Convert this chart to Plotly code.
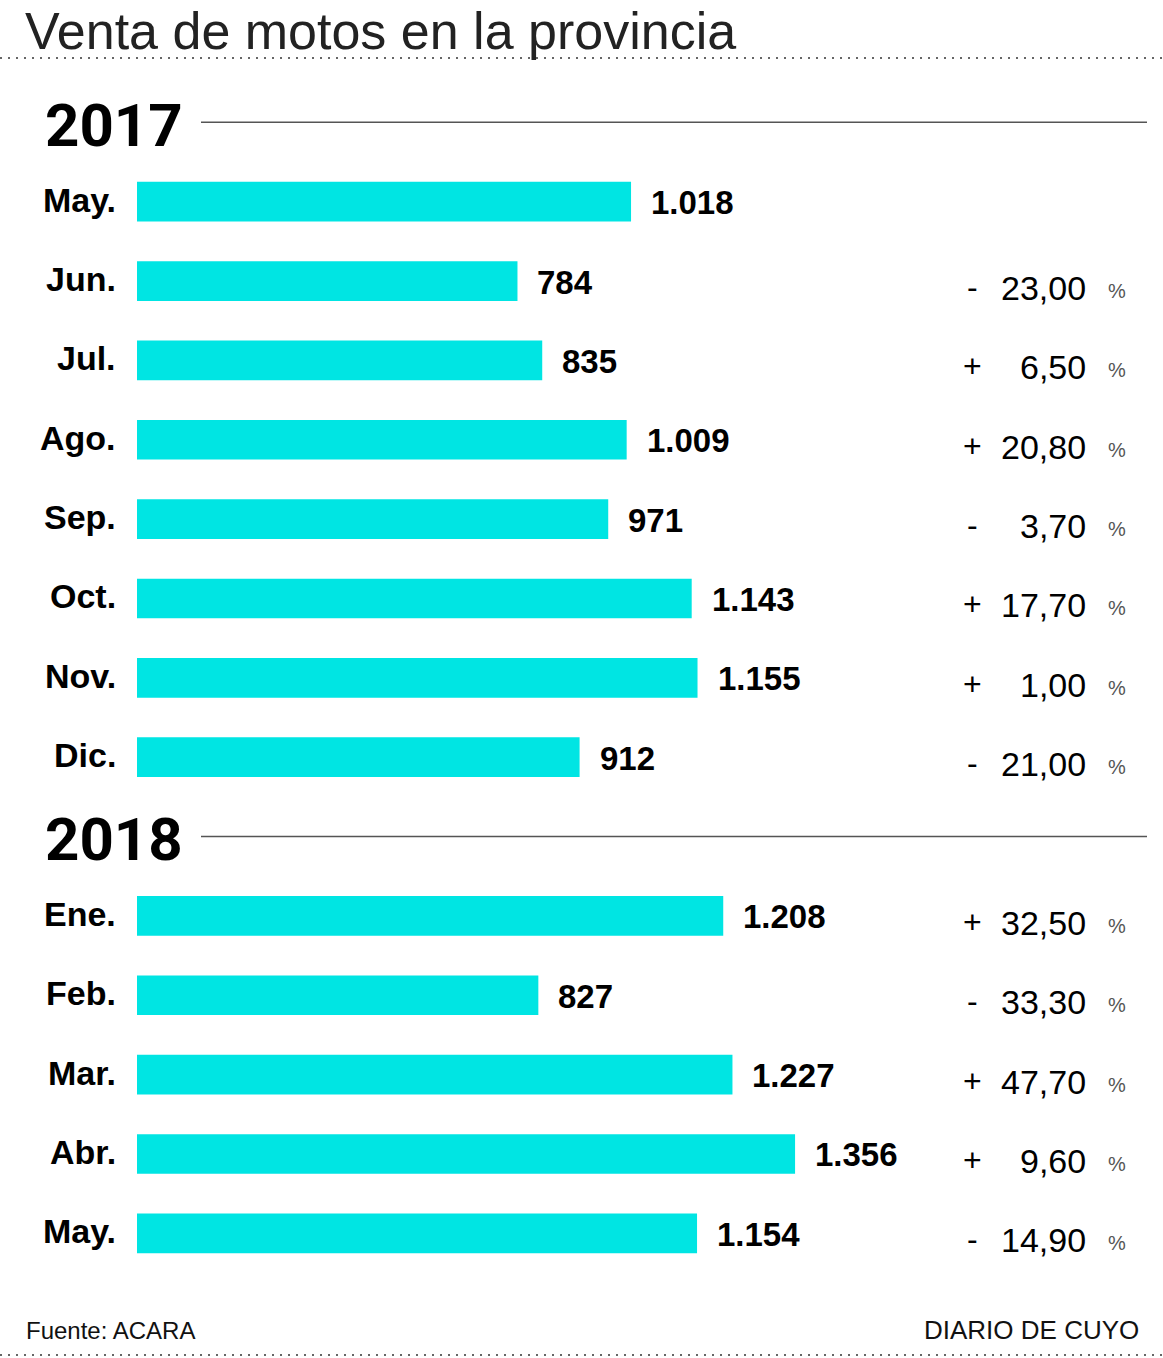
import plotly.graph_objects as go

# ---------------- data ----------------
months_2017 = ["May.", "Jun.", "Jul.", "Ago.", "Sep.", "Oct.", "Nov.", "Dic."]
sales_2017 = [1018, 784, 835, 1009, 971, 1143, 1155, 912]
pct_2017 = [None, -23.00, 6.50, 20.80, -3.70, 17.70, 1.00, -21.00]

months_2018 = ["Ene.", "Feb.", "Mar.", "Abr.", "May."]
sales_2018 = [1208, 827, 1227, 1356, 1154]
pct_2018 = [32.50, -33.30, 47.70, 9.60, -14.90]

years = ["2017", "2018"]
title = "Venta de motos en la provincia"
source = "Fuente: ACARA"
brand = "DIARIO DE CUYO"

# ---------------- build categories ----------------
cat_ids = [f"2017-{m}" for m in months_2017] + ["gap"] + [f"2018-{m}" for m in months_2018]
bar_ids = [f"2017-{m}" for m in months_2017] + [f"2018-{m}" for m in months_2018]
labels = months_2017 + months_2018
values = sales_2017 + sales_2018
pcts = pct_2017 + pct_2018
idx = [cat_ids.index(c) for c in bar_ids]
N = len(cat_ids)

OFF = 0  # page body margin removed via post_script
W, H = 1163, 1358
ML, MR, MT, MB = 137, 0, 162, 85
plot_w = W - ML - MR
plot_h = H - MT - MB
XMAX = plot_w / 0.4853

def fx(px):  # reference pixel x -> paper x
    return (px - OFF - ML) / plot_w

def fy(py):  # reference pixel y -> paper y
    return 1 - (py - OFF - MT) / plot_h

def slot_paper(i):  # category index -> paper y
    return 1 - (i + 0.5) / N

NARROW = "Liberation Sans Narrow, Arial Narrow, Liberation Sans, Arial, sans-serif"
REG = "Liberation Sans, Arial, Helvetica, sans-serif"
BAR_COLOR = "#00E5E3"

fig = go.Figure(go.Bar(
    x=values, y=bar_ids, orientation="h",
    marker=dict(color=BAR_COLOR, line=dict(width=0)),
    width=0.5, hoverinfo="skip",
))

def fmt_int(v):
    return f"{v:,}".replace(",", ".")

ann = []
for i, lab, v, p in zip(idx, labels, values, pcts):
    ann.append(dict(x=fx(118), xref="paper", y=i, yref="y", text=f"<b>{lab}</b>",
                    xanchor="right", yanchor="middle", showarrow=False, yshift=2,
                    font=dict(family=NARROW, size=34, color="#000")))
    ann.append(dict(x=v, xref="x", y=i, yref="y", text=f"<b>{fmt_int(v)}</b>",
                    xanchor="left", yanchor="middle", showarrow=False, xshift=18, yshift=-1,
                    font=dict(family=NARROW, size=33, color="#000")))
    if p is not None:
        sign = "+" if p > 0 else "-"
        ann.append(dict(x=fx(972), xref="paper", y=i, yref="y", text=sign,
                        xanchor="center", yanchor="middle", showarrow=False, yshift=-6,
                        font=dict(family=REG, size=32, color="#000")))
        ann.append(dict(x=fx(1088), xref="paper", y=i, yref="y",
                        text=f"{abs(p):.2f}".replace(".", ","),
                        xanchor="right", yanchor="middle", showarrow=False, yshift=-7,
                        font=dict(family=NARROW, size=34, color="#000")))
        ann.append(dict(x=fx(1117), xref="paper", y=i, yref="y", text="%",
                        xanchor="center", yanchor="middle", showarrow=False, yshift=-10,
                        font=dict(family=REG, size=20, color="#555")))

# year headers (placed at the slot before each group)
year_slots = [-1, cat_ids.index("gap")]
shapes = []
for yr, s in zip(years, year_slots):
    yp = slot_paper(s)
    ann.append(dict(x=fx(43), xref="paper", y=yp, yref="paper", text=f"<b>{yr}</b>",
                    xanchor="left", yanchor="middle", showarrow=False, yshift=-3,
                    font=dict(family="Roboto, Liberation Sans, Arial", size=60, color="#000", weight=900)))
    shapes.append(dict(type="line", xref="paper", yref="paper",
                       x0=fx(201), x1=fx(1147), y0=yp, y1=yp,
                       line=dict(color="#555", width=1.5)))

# title and footer
ann.append(dict(x=fx(23), xref="paper", y=fy(0), yref="paper",
                text=title, xanchor="left", yanchor="top", showarrow=False,
                font=dict(family=REG, size=52, color="#222")))
ann.append(dict(x=fx(24), xref="paper", y=fy(1330), yref="paper",
                text=source, xanchor="left", yanchor="middle", showarrow=False,
                font=dict(family=NARROW, size=24, color="#111")))
ann.append(dict(x=fx(1141), xref="paper", y=fy(1330), yref="paper",
                text=brand, xanchor="right", yanchor="middle", showarrow=False,
                font=dict(family=NARROW, size=26, color="#111")))

# dotted rules
for ypx in (58, 1355):
    yp = fy(ypx)
    shapes.append(dict(type="line", xref="paper", yref="paper",
                       x0=fx(0), x1=fx(1163), y0=yp, y1=yp,
                       line=dict(color="#666", width=2, dash="2px,6px")))

fig.update_layout(
    width=W, height=H,
    margin=dict(l=ML, r=MR, t=MT, b=MB),
    paper_bgcolor="white", plot_bgcolor="white",
    showlegend=False,
    xaxis=dict(range=[0, XMAX], visible=False, fixedrange=True),
    yaxis=dict(type="category", categoryorder="array", categoryarray=cat_ids,
               range=[N - 0.5, -0.5], visible=False, fixedrange=True),
    annotations=ann, shapes=shapes,
)

fig.write_html("out.html",
               config={"displayModeBar": False, "staticPlot": True},
               post_script="document.body.style.margin='0';document.body.style.overflow='hidden';")
